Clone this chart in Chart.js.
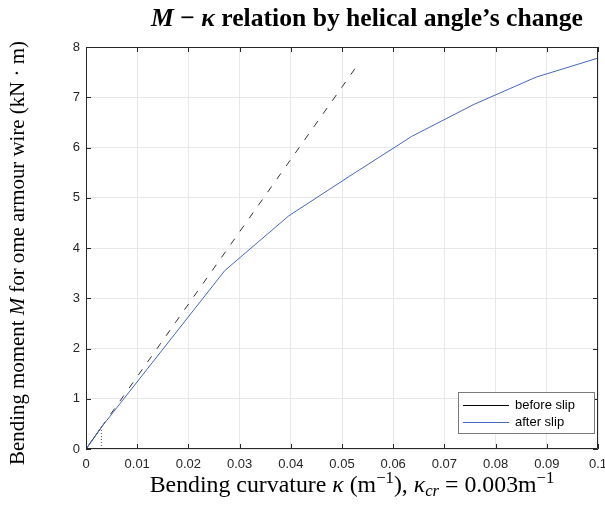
<!DOCTYPE html>
<html>
<head>
<meta charset="utf-8">
<script src="https://cdn.jsdelivr.net/npm/chart.js@4/dist/chart.umd.min.js"></script>
<style>
  html, body { margin: 0; padding: 0; background: #fff; }
  #wrap { width: 605px; height: 506px; position: relative; }
</style>
</head>
<body>
<div id="wrap"><canvas id="c" width="605" height="506"></canvas></div>
<script>
// ---- data ----
const kappaAfter  = [0, 0.003, 0.0271, 0.0396, 0.0515, 0.0636, 0.0758, 0.0879, 0.1];
const momentAfter = [0, 0.432, 3.55, 4.64, 5.43, 6.22, 6.86, 7.40, 7.78];

const kappaBefore  = [0, 0.003];
const momentBefore = [0, 0.432];

const kappaExtension  = [0.003, 0.0533];
const momentExtension = [0.432, 7.68];

const kappaCritical  = [0.003, 0.003];
const momentCritical = [0, 0.432];

const xTicks = [0, 0.01, 0.02, 0.03, 0.04, 0.05, 0.06, 0.07, 0.08, 0.09, 0.1];
const yTicks = [0, 1, 2, 3, 4, 5, 6, 7, 8];

const seriesLabels = ['before slip', 'after slip'];

function pts(xs, ys) { return xs.map((x, i) => ({ x: x, y: ys[i] })); }

const BLUE = '#4566c2';
const AXIS = '#262626';
const SERIF = '"Liberation Serif", "DejaVu Serif", serif';
const SANS = '"Liberation Sans", Arial, sans-serif';

function drawRich(ctx, parts, size, x, y, align, fit) {
  // measure
  function fontOf(p, s) {
    const sz = p.small ? s * 0.7 : s;
    return (p.it ? 'italic ' : '') + (p.bold ? 'bold ' : '') + sz + 'px ' + SERIF;
  }
  function widthAt(s) {
    let w = 0;
    parts.forEach(p => { ctx.font = fontOf(p, s); w += ctx.measureText(p.t).width; });
    return w;
  }
  let s = size;
  if (fit) { s = size * fit / widthAt(size); }
  const total = widthAt(s);
  let cx = align === 'center' ? x - total / 2 : x;
  ctx.textBaseline = 'alphabetic';
  ctx.textAlign = 'left';
  parts.forEach(p => {
    ctx.font = fontOf(p, s);
    const dy = p.sup ? -s * 0.38 : (p.sub ? s * 0.18 : 0);
    ctx.fillText(p.t, cx, y + dy);
    cx += ctx.measureText(p.t).width;
  });
}

const decorPlugin = {
  id: 'decor',
  afterDraw(chart) {
    const ctx = chart.ctx;
    const a = chart.chartArea;
    const xs = chart.scales.x, ys = chart.scales.y;
    ctx.save();
    // box
    ctx.strokeStyle = AXIS;
    ctx.lineWidth = 1;
    ctx.beginPath();
    ctx.rect(Math.round(a.left) + 0.5, Math.round(a.top) + 0.5,
             Math.round(a.right - a.left) - 1, Math.round(a.bottom - a.top) - 1);
    ctx.stroke();
    // inner ticks
    const tl = 5;
    ctx.beginPath();
    xs.ticks.forEach(t => {
      const px = Math.round(xs.getPixelForValue(t.value)) + 0.5;
      ctx.moveTo(px, a.bottom); ctx.lineTo(px, a.bottom - tl);
      ctx.moveTo(px, a.top); ctx.lineTo(px, a.top + tl);
    });
    ys.ticks.forEach(t => {
      const py = Math.round(ys.getPixelForValue(t.value)) + 0.5;
      ctx.moveTo(a.left, py); ctx.lineTo(a.left + tl, py);
      ctx.moveTo(a.right, py); ctx.lineTo(a.right - tl, py);
    });
    ctx.stroke();

    // legend
    const lx = 458.5, ly = 392.5, lw = 136, lh = 41;
    ctx.fillStyle = '#fff';
    ctx.fillRect(lx, ly, lw, lh);
    ctx.strokeStyle = '#7a7a7a';
    ctx.strokeRect(lx, ly, lw, lh);
    const entries = [
      { ds: chart.data.datasets[1], label: seriesLabels[0] },
      { ds: chart.data.datasets[0], label: seriesLabels[1] }
    ];
    ctx.font = '13px ' + SANS;
    ctx.textBaseline = 'middle';
    ctx.textAlign = 'left';
    entries.forEach((e, i) => {
      const yy = 405.5 + i * 17;
      ctx.strokeStyle = e.ds.borderColor;
      ctx.lineWidth = 1;
      ctx.beginPath(); ctx.moveTo(463, yy); ctx.lineTo(509, yy); ctx.stroke();
      ctx.fillStyle = '#000';
      ctx.fillText(e.label, 515, yy);
    });

    // titles
    ctx.fillStyle = '#000';
    drawRich(ctx, [
      { t: 'M', it: true, bold: true },
      { t: ' \u2212 ', bold: true },
      { t: '\u03BA', it: true, bold: true },
      { t: ' relation by helical angle\u2019s change', bold: true }
    ], 22, 367, 26, 'center', 432);

    drawRich(ctx, [
      { t: 'Bending curvature ' },
      { t: '\u03BA', it: true },
      { t: ' (m' },
      { t: '\u22121', sup: true, small: true },
      { t: '), ' },
      { t: '\u03BA', it: true },
      { t: 'cr', it: true, sub: true, small: true },
      { t: ' = 0.003m' },
      { t: '\u22121', sup: true, small: true }
    ], 18, 352, 492, 'center', 405);

    ctx.save();
    ctx.translate(24, 253);
    ctx.rotate(-Math.PI / 2);
    drawRich(ctx, [
      { t: 'Bending moment ' },
      { t: 'M', it: true },
      { t: ' for ome armour wire (kN \u00B7 m)' }
    ], 18, 0, 0, 'center', 424);
    ctx.restore();

    ctx.restore();
  }
};

new Chart(document.getElementById('c'), {
  type: 'scatter',
  data: {
    datasets: [
      { label: seriesLabels[1], data: pts(kappaAfter, momentAfter), showLine: true,
        borderColor: BLUE, borderWidth: 1, pointRadius: 0, tension: 0 },
      { label: seriesLabels[0], data: pts(kappaBefore, momentBefore), showLine: true,
        borderColor: '#000', borderWidth: 1, pointRadius: 0, tension: 0 },
      { label: 'extension', data: pts(kappaExtension, momentExtension), showLine: true,
        borderColor: '#333', borderWidth: 1, borderDash: [7, 9], pointRadius: 0, tension: 0 },
      { label: 'critical', data: pts(kappaCritical, momentCritical), showLine: true,
        borderColor: '#555', borderWidth: 1, borderDash: [1, 2], pointRadius: 0, tension: 0 }
    ]
  },
  options: {
    responsive: false,
    animation: false,
    layout: { padding: { top: 47, right: 7, left: 0, bottom: 0 } },
    plugins: { legend: { display: false }, tooltip: { enabled: false }, title: { display: false } },
    scales: {
      x: {
        type: 'linear', min: 0, max: 0.1,
        afterBuildTicks: s => { s.ticks = xTicks.map(v => ({ value: v })); },
        afterFit: s => { s.height = 57; s.paddingLeft = 0; s.paddingRight = 0; },
        grid: { color: '#e8e8e8', drawTicks: false },
        border: { display: false },
        ticks: {
          autoSkip: false, maxRotation: 0, minRotation: 0, padding: 8, color: AXIS,
          font: { family: SANS, size: 13 },
          callback: v => String(+v.toFixed(3))
        }
      },
      y: {
        type: 'linear', min: 0, max: 8,
        afterBuildTicks: s => { s.ticks = yTicks.map(v => ({ value: v })); },
        afterFit: s => { s.width = 86; s.paddingTop = 0; s.paddingBottom = 0; },
        grid: { color: '#e8e8e8', drawTicks: false },
        border: { display: false },
        ticks: {
          padding: 6, color: AXIS,
          font: { family: SANS, size: 13 },
          callback: v => String(v)
        }
      }
    }
  },
  plugins: [decorPlugin]
});
</script>
</body>
</html>
